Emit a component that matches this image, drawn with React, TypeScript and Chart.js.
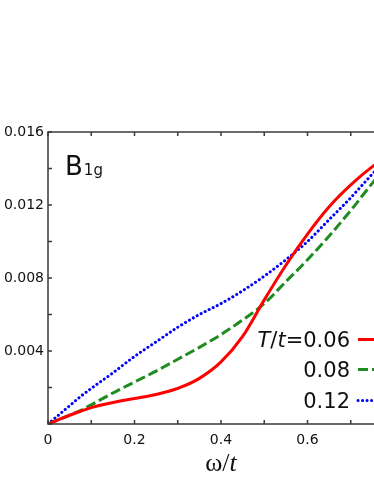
import { useEffect, useRef } from "react";
import { Chart, registerables } from "chart.js";
Chart.register(...registerables);

const omega = [0, 0.025, 0.05, 0.075, 0.1, 0.15, 0.2, 0.25, 0.3, 0.35, 0.4, 0.45, 0.5, 0.55, 0.6, 0.65, 0.7, 0.75, 0.8];
const t006 = [0, 0.00024, 0.00048, 0.0007, 0.0009, 0.00118, 0.0014, 0.00162, 0.00195, 0.0025, 0.0034, 0.0048, 0.0068, 0.0087, 0.0104, 0.0119, 0.0131, 0.0141, 0.0149];
const t008 = [0, 0.00024, 0.00048, 0.00074, 0.00105, 0.0017, 0.0023, 0.0029, 0.00355, 0.0042, 0.0049, 0.0057, 0.0066, 0.0078, 0.009, 0.0103, 0.0117, 0.0132, 0.0146];
const t012 = [0, 0.0005, 0.001, 0.0015, 0.00195, 0.0028, 0.0037, 0.0045, 0.0053, 0.006, 0.0066, 0.0073, 0.0081, 0.009, 0.01, 0.0112, 0.0124, 0.0137, 0.0149];
const legendLabels = ["0.06", "0.08", "0.12"];
const colors = ["#ff0000", "#1e8c1e", "#0000ff"];
const dashes = [[], [10, 4], [0.1, 4.4]];

const AXIS = "#3a3a3a";
const SANS = '"DejaVu Sans", Verdana, sans-serif';
const SERIF = '"Liberation Serif", "Times New Roman", serif';

const decor = {
  id: "decor",
  afterDraw(chart: any) {
    const ctx = chart.ctx;
    const { left, right, top, bottom } = chart.chartArea;
    const xs = chart.scales.x;
    const ys = chart.scales.y;
    ctx.save();
    ctx.strokeStyle = AXIS;
    ctx.lineWidth = 1.5;
    ctx.beginPath();
    ctx.moveTo(left, top);
    ctx.lineTo(right, top);
    ctx.lineTo(right, bottom);
    ctx.lineTo(left, bottom);
    ctx.closePath();
    ctx.stroke();
    ctx.beginPath();
    for (const t of xs.ticks) {
      const px = xs.getPixelForValue(t.value);
      ctx.moveTo(px, bottom);
      ctx.lineTo(px, bottom - 4);
      ctx.moveTo(px, top);
      ctx.lineTo(px, top + 4);
    }
    for (const t of ys.ticks) {
      const py = ys.getPixelForValue(t.value);
      ctx.moveTo(left, py);
      ctx.lineTo(left + 4, py);
      ctx.moveTo(right, py);
      ctx.lineTo(right - 4, py);
    }
    ctx.stroke();

    // B1g label
    ctx.fillStyle = "#111";
    ctx.textBaseline = "alphabetic";
    ctx.textAlign = "left";
    ctx.font = `26px ${SANS}`;
    ctx.fillText("B", 65, 174.5);
    const bw = ctx.measureText("B").width;
    ctx.font = `15px ${SANS}`;
    ctx.fillText("1g", 65 + bw + 1, 174.5);

    // Legend
    const textRight = 350;
    const baselines = [347, 377, 408];
    chart.data.datasets.forEach((ds: any, i: number) => {
      const by = baselines[i];
      const parts: [string, string][] = i === 0
        ? [["T", "italic "], ["/", ""], ["t", "italic "], ["=" + legendLabels[i], ""]]
        : [[legendLabels[i], ""]];
      let total = 0;
      for (const [s, st] of parts) {
        ctx.font = `${st}21px ${SANS}`;
        total += ctx.measureText(s).width;
      }
      let x = textRight - total;
      ctx.fillStyle = "#111";
      for (const [s, st] of parts) {
        ctx.font = `${st}21px ${SANS}`;
        ctx.fillText(s, x, by);
        x += ctx.measureText(s).width;
      }
      ctx.strokeStyle = ds.borderColor;
      ctx.lineWidth = ds.borderWidth;
      ctx.lineCap = ds.borderCapStyle;
      ctx.setLineDash(ds.borderDash);
      ctx.beginPath();
      ctx.moveTo(358, by - 7.5);
      ctx.lineTo(410, by - 7.5);
      ctx.stroke();
      ctx.setLineDash([]);
    });

    // x title
    const cx = xs.getPixelForValue(0.4);
    const tparts: [string, string][] = [["ω", ""], ["/", ""], ["t", "italic "]];
    let tw = 0;
    for (const [s, st] of tparts) {
      ctx.font = `${st}26px ${SERIF}`;
      tw += ctx.measureText(s).width;
    }
    let tx = cx - tw / 2;
    ctx.fillStyle = "#111";
    ctx.lineCap = "butt";
    for (const [s, st] of tparts) {
      ctx.font = `${st}26px ${SERIF}`;
      ctx.fillText(s, tx, 471);
      tx += ctx.measureText(s).width;
    }
    ctx.restore();
  },
};

export default function App() {
  const ref = useRef<HTMLCanvasElement>(null);
  useEffect(() => {
    const series = [t006, t008, t012];
    const chart = new Chart(ref.current!, {
      type: "line",
      data: {
        datasets: series.map((s, i) => ({
          label: legendLabels[i],
          data: omega.map((x, j) => ({ x, y: s[j] })),
          borderColor: colors[i],
          backgroundColor: colors[i],
          borderWidth: 3,
          borderDash: dashes[i],
          borderCapStyle: i === 2 ? "round" : "butt",
          pointRadius: 0,
          cubicInterpolationMode: "monotone",
          fill: false,
        })) as any,
      },
      options: {
        animation: false,
        responsive: false,
        devicePixelRatio: 1,
        layout: { padding: { left: 0, top: 132, right: 26, bottom: 0 } },
        plugins: { legend: { display: false }, tooltip: { enabled: false } },
        scales: {
          x: {
            type: "linear",
            min: 0,
            max: 0.8,
            grid: { display: false, drawTicks: false },
            border: { display: false },
            afterFit: (s: any) => { s.height = 60; },
            ticks: {
              stepSize: 0.1,
              padding: 8,
              color: "#111",
              font: { family: SANS, size: 14 },
              maxRotation: 0,
              autoSkip: false,
              callback: (v: any) => {
                const k = Math.round(Number(v) * 10);
                return k % 2 === 0 ? String(k / 10) : "";
              },
            },
          },
          y: {
            type: "linear",
            min: 0,
            max: 0.016,
            grid: { display: false, drawTicks: false },
            border: { display: false },
            afterFit: (s: any) => { s.width = 48; },
            ticks: {
              stepSize: 0.002,
              padding: 4,
              color: "#111",
              font: { family: SANS, size: 14 },
              autoSkip: false,
              callback: (v: any) => {
                const k = Math.round(Number(v) * 1000);
                return k !== 0 && k % 4 === 0 ? (k / 1000).toFixed(3) : "";
              },
            },
          },
        },
      },
      plugins: [decor],
    } as any);
    return () => chart.destroy();
  }, []);
  return (
    <div style={{ position: "fixed", left: 0, top: 0, width: 374, height: 484, overflow: "hidden", background: "#fff" }}>
      <canvas ref={ref} width={420} height={484} style={{ width: 420, height: 484, display: "block" }} />
    </div>
  );
}
